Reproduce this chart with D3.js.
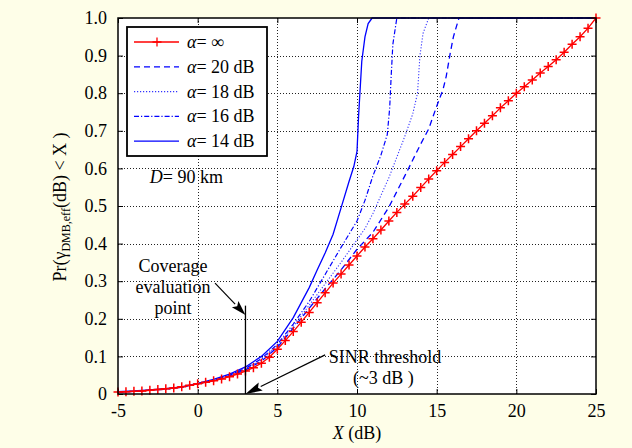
<!DOCTYPE html>
<html><head><meta charset="utf-8">
<script src="https://cdn.jsdelivr.net/npm/d3@7"></script>
<style>
body{margin:0;background:#fefee8;}
svg{display:block;}
</style>
</head><body>
<svg id="chart" width="632" height="448"></svg>
<script>
// ---- data ----
const xTicks = [-5, 0, 5, 10, 15, 20, 25];
const xTickLabels = ["-5", "0", "5", "10", "15", "20", "25"];
const yTicks = [0, 0.1, 0.2, 0.3, 0.4, 0.5, 0.6, 0.7, 0.8, 0.9, 1.0];
const yTickLabels = ["0", "0.1", "0.2", "0.3", "0.4", "0.5", "0.6", "0.7", "0.8", "0.9", "1.0"];

const seriesNames = ["\u221e", "20 dB", "18 dB", "16 dB", "14 dB"];

// alpha = infinity (red, + markers)
const xInf = [-5,-4.5,-4,-3.5,-3,-2.5,-2,-1.5,-1,-0.5,0,0.5,1,1.5,2,2.5,3,3.5,4,4.5,5,5.5,6,6.5,7,7.5,8,8.5,9,9.5,10,10.5,11,11.5,12,12.5,13,13.5,14,14.5,15,15.5,16,16.5,17,17.5,18,18.5,19,19.5,20,20.5,21,21.5,22,22.5,23,23.5,24,24.5,25];
const yInf = [0.005,0.006,0.007,0.008,0.010,0.012,0.014,0.016,0.019,0.023,0.027,0.031,0.035,0.040,0.046,0.053,0.061,0.070,0.082,0.098,0.119,0.142,0.166,0.191,0.217,0.243,0.269,0.295,0.319,0.343,0.367,0.391,0.413,0.436,0.460,0.483,0.505,0.526,0.549,0.572,0.594,0.616,0.637,0.658,0.679,0.700,0.720,0.740,0.761,0.780,0.800,0.817,0.835,0.854,0.871,0.889,0.909,0.930,0.950,0.973,1.000];

// alpha = 20 dB (dashed)
const x20 = [-5,-4,-3,-2,-1,0,1,2,3,4,5,6,7,8,9,10,11,12,13,14,14.5,15,15.4,15.6,15.85,16.05,16.4,25];
const y20 = [0.005,0.007,0.010,0.013,0.018,0.027,0.036,0.048,0.064,0.087,0.124,0.175,0.228,0.280,0.330,0.385,0.430,0.497,0.580,0.665,0.705,0.765,0.810,0.845,0.906,0.950,1.0,1.0];

// alpha = 18 dB (dotted)
const x18 = [-5,-4,-3,-2,-1,0,1,2,3,4,5,6,7,8,9,10,10.5,11,11.5,12,12.5,13,13.5,13.8,13.95,14.15,14.5,25];
const y18 = [0.005,0.007,0.010,0.013,0.018,0.027,0.036,0.049,0.066,0.091,0.128,0.180,0.236,0.293,0.350,0.410,0.440,0.480,0.528,0.575,0.630,0.685,0.745,0.800,0.900,0.960,1.0,1.0];

// alpha = 16 dB (dash-dot)
const x16 = [-5,-4,-3,-2,-1,0,1,2,3,4,5,6,7,8,9,10,10.5,11,11.5,11.9,12.05,12.15,12.25,12.5,25];
const y16 = [0.005,0.007,0.010,0.013,0.018,0.027,0.037,0.050,0.068,0.094,0.132,0.186,0.246,0.318,0.390,0.460,0.515,0.580,0.635,0.690,0.760,0.850,0.930,1.0,1.0];

// alpha = 14 dB (solid)
const x14 = [-5,-4,-3,-2,-1,0,1,2,3,4,5,6,7,7.5,8,8.5,9,9.5,9.8,10,10.1,10.3,10.5,10.7,10.95,25];
const y14 = [0.006,0.008,0.011,0.014,0.019,0.028,0.039,0.053,0.072,0.100,0.140,0.203,0.283,0.330,0.375,0.425,0.495,0.565,0.605,0.645,0.740,0.885,0.950,0.985,1.0,1.0];

// ---- layout ----
const FONT = '"Liberation Serif", "Times New Roman", serif';
const svg = d3.select("#chart");
const L = 118, R = 596, T = 18, B = 394;
const x = d3.scaleLinear().domain([-5, 25]).range([L, R]);
const y = d3.scaleLinear().domain([0, 1]).range([B, T]);

svg.append("rect").attr("width", 632).attr("height", 448).attr("fill", "#fefee8");
svg.append("rect").attr("x", L).attr("y", T).attr("width", R - L).attr("height", B - T).attr("fill", "#fff");

// grid
const grid = svg.append("g").attr("stroke", "#222").attr("stroke-width", 1).attr("stroke-dasharray", "1,2");
grid.selectAll(".gx").data(xTicks.slice(1, -1)).join("line")
  .attr("x1", d => Math.round(x(d)) + 0.5).attr("x2", d => Math.round(x(d)) + 0.5)
  .attr("y1", T).attr("y2", B);
grid.selectAll(".gy").data(yTicks.slice(1, -1)).join("line")
  .attr("y1", d => Math.round(y(d)) + 0.5).attr("y2", d => Math.round(y(d)) + 0.5)
  .attr("x1", L).attr("x2", R);

// axes (ticks inward, no domain)
const axB = svg.append("g").attr("transform", `translate(0,${B})`)
  .call(d3.axisBottom(x).tickValues(xTicks).tickFormat((d, i) => xTickLabels[i]).tickSizeInner(-5).tickSizeOuter(0).tickPadding(10));
const axL = svg.append("g").attr("transform", `translate(${L},0)`)
  .call(d3.axisLeft(y).tickValues(yTicks).tickFormat((d, i) => yTickLabels[i]).tickSizeInner(-5).tickSizeOuter(0).tickPadding(11));
const axT = svg.append("g").attr("transform", `translate(0,${T})`)
  .call(d3.axisTop(x).tickValues(xTicks).tickFormat("").tickSizeInner(-5).tickSizeOuter(0));
const axR = svg.append("g").attr("transform", `translate(${R},0)`)
  .call(d3.axisRight(y).tickValues(yTicks).tickFormat("").tickSizeInner(-5).tickSizeOuter(0));
[axB, axL, axT, axR].forEach(a => {
  a.attr("font-family", null);
  a.select(".domain").remove();
  a.selectAll("line").attr("stroke", "#000");
  a.selectAll("text").style("font-family", FONT).attr("font-size", 18).attr("fill", "#000");
});
axB.selectAll("text").attr("dy", "0.71em");

// series
const line = d3.line().x(d => x(d[0])).y(d => y(d[1]));
const zip = (xs, ys) => xs.map((v, i) => [v, ys[i]]);
const blue = "#0000ff";
const blueSeries = [
  {xs: x20, ys: y20, dash: "6,4", w: 1.3, op: 1},
  {xs: x18, ys: y18, dash: "1.2,1.8", w: 1.1, op: 0.8},
  {xs: x16, ys: y16, dash: "5,2,1.2,2", w: 1.2, op: 1},
  {xs: x14, ys: y14, dash: null, w: 1.3, op: 1}
];
const g = svg.append("g");
blueSeries.forEach(s => {
  g.append("path").datum(zip(s.xs, s.ys)).attr("d", line)
    .attr("fill", "none").attr("stroke", blue).attr("stroke-width", s.w)
    .attr("stroke-opacity", s.op)
    .attr("stroke-dasharray", s.dash);
});
const red = "#ff0000";
const redData = zip(xInf, yInf);
g.append("path").datum(redData).attr("d", line).attr("fill", "none").attr("stroke", red).attr("stroke-width", 1.3);
const plus = (px, py, s) => `M${px - s},${py}H${px + s}M${px},${py - s}V${py + s}`;
g.append("path").attr("d", redData.map(d => plus(x(d[0]), y(d[1]), 4.5)).join(""))
  .attr("stroke", red).attr("stroke-width", 1.5).attr("fill", "none");

// frame
svg.append("rect").attr("x", L).attr("y", T).attr("width", R - L).attr("height", B - T)
  .attr("fill", "none").attr("stroke", "#000").attr("stroke-width", 1.5);

// legend
const lg = svg.append("g");
lg.append("rect").attr("x", 127).attr("y", 27).attr("width", 140).attr("height", 129)
  .attr("fill", "#fff").attr("stroke", "#000").attr("stroke-width", 1.8);
const legStyles = [
  {c: red, dash: null, w: 1.3, op: 1, mark: true},
  {c: blue, dash: "6,4", w: 1.3, op: 1},
  {c: blue, dash: "1.2,1.8", w: 1.1, op: 0.8},
  {c: blue, dash: "5,2,1.2,2", w: 1.2, op: 1},
  {c: blue, dash: null, w: 1.3, op: 1}
];
seriesNames.forEach((name, i) => {
  const ry = 42 + i * 24.8;
  const st = legStyles[i];
  lg.append("line").attr("x1", 134).attr("x2", 179).attr("y1", ry).attr("y2", ry)
    .attr("stroke", st.c).attr("stroke-width", st.w).attr("stroke-opacity", st.op).attr("stroke-dasharray", st.dash);
  if (st.mark) lg.append("path").attr("d", plus(157, ry, 4.5)).attr("stroke", red).attr("stroke-width", 1.3);
  const t = lg.append("text").attr("x", 187).attr("y", ry + 6).attr("font-size", 18).attr("fill", "#000").style("font-family", FONT);
  t.append("tspan").attr("font-style", "italic").text("\u03b1");
  t.append("tspan").text("= " + name);
});

// D = 90 km
const dt = svg.append("text").attr("x", x(-3.0)).attr("y", y(0.561)).attr("font-size", 18).attr("fill", "#000").style("font-family", FONT);
dt.append("tspan").attr("font-style", "italic").text("D");
dt.append("tspan").text("= 90 km");

// annotations
const ann = svg.append("g").attr("fill", "#000").attr("font-size", 18);
[["Coverage", 0.324], ["evaluation", 0.269], ["point", 0.213]].forEach(([s, v]) => {
  ann.append("text").attr("x", x(-1.55)).attr("y", y(v)).attr("text-anchor", "middle").style("font-family", FONT).text(s);
});
ann.append("text").attr("x", x(11.76)).attr("y", y(0.082)).attr("text-anchor", "middle").style("font-family", FONT).text("SINR threshold");
ann.append("text").attr("x", x(11.65)).attr("y", y(0.027)).attr("text-anchor", "middle").style("font-family", FONT).text("(~3 dB )");

svg.append("line").attr("x1", x(3)).attr("x2", x(3)).attr("y1", y(0.235)).attr("y2", y(0))
  .attr("stroke", "#000").attr("stroke-width", 1.3);
function arrow(x1, y1, x2, y2, len, wid) {
  const dx = x2 - x1, dy = y2 - y1, d = Math.hypot(dx, dy);
  const ux = dx / d, uy = dy / d, nx = -uy, ny = ux;
  const bx = x2 - ux * len, by = y2 - uy * len;
  svg.append("line").attr("x1", x1).attr("y1", y1).attr("x2", bx).attr("y2", by)
    .attr("stroke", "#000").attr("stroke-width", 1.2);
  svg.append("path").attr("d", `M${x2},${y2}L${bx + nx * wid / 2},${by + ny * wid / 2}L${bx + ux * 3},${by + uy * 3}L${bx - nx * wid / 2},${by - ny * wid / 2}Z`)
    .attr("fill", "#000");
}
arrow(x(1.09), y(0.295), x(3), y(0.21), 15, 9);
arrow(x(8.0), y(0.104), x(3), y(0.0), 17, 9);

// axis titles
const xt = svg.append("text").attr("x", 357).attr("y", 439).attr("text-anchor", "middle").attr("font-size", 18).attr("fill", "#000").style("font-family", FONT);
xt.append("tspan").attr("font-style", "italic").text("X");
xt.append("tspan").text(" (dB)");

const yt = svg.append("text").attr("transform", "translate(66,207) rotate(-90)")
  .attr("text-anchor", "middle").attr("font-size", 18).attr("fill", "#000").style("font-family", FONT);
yt.append("tspan").text("Pr(\u03b3");
yt.append("tspan").attr("font-size", 12).attr("dy", 4).text("DMB,eff");
yt.append("tspan").attr("dy", -4).text("(dB) < X )");
</script>
</body></html>
